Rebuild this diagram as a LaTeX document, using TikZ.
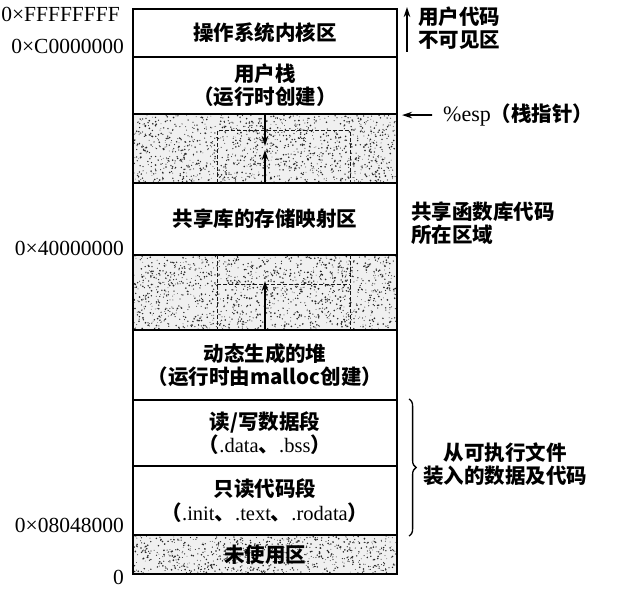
\documentclass[tikz,border=0pt]{standalone}
\usepackage{fontspec}
\setmainfont{Liberation Serif}
\newfontfamily\cjk{Noto Sans CJK SC}
\usetikzlibrary{decorations.pathreplacing,arrows.meta}
\newcommand\zh[1]{{\cjk\bfseries #1}}
\newcommand\myspeckle[5]{%
  \foreach \i in {1,...,#5}{%
    \pgfmathsetmacro\rx{#1+(#3-#1)*rnd}%
    \pgfmathsetmacro\ry{#2+(#4-#2)*rnd}%
    \pgfmathsetmacro\rr{0.35+0.6*rnd}%
    \fill[black!85] (\rx,\ry) circle (\rr);
  }}
\begin{document}
\begin{tikzpicture}[x=1pt,y=-1pt,
  region/.style={draw, line width=2.2pt, minimum width=264pt, inner sep=0pt, align=center,
     font=\fontsize{20.5}{23.5}\selectfont},
  addr/.style={anchor=east, inner sep=0pt, font=\fontsize{21.5}{24}\selectfont},
  note/.style={inner sep=0pt, align=left, font=\fontsize{20.5}{23}\selectfont},
  arr/.style={-{Stealth[length=10pt,width=6.5pt]}, line width=1.8pt},
  dsh/.style={dashed, dash pattern=on 4pt off 2pt, line width=1pt, black!90}]
\useasboundingbox[fill=white] (0,0) rectangle (619,601);
\pgfmathsetseed{1234}
% speckled backgrounds
\fill[black!6] (133,114) rectangle (397,183);
\fill[black!6] (133,255) rectangle (397,330);
\fill[black!6] (133,535) rectangle (397,574);
\myspeckle{134}{115}{396}{182}{1300}
\myspeckle{134}{256}{396}{329}{1400}
\myspeckle{134}{536}{396}{573}{750}
% regions
\node[region, minimum height=48pt] (kernel) at (265,33) {\zh{操作系统内核区}};
\node[region, minimum height=57pt] (stack) at (265,85.5) {\zh{用户栈}\\\zh{（运行时创建）}};
\node[region, minimum height=69pt] (gap1) at (265,148.5) {};
\node[region, minimum height=72pt] (shlib) at (265,219) {\zh{共享库的存储映射区}};
\node[region, minimum height=75pt] (gap2) at (265,292.5) {};
\node[region, minimum height=70pt] (heap) at (265,365) {\zh{动态生成的堆}\\\zh{（运行时由malloc创建）}};
\node[region, minimum height=66pt] (rw) at (265,433) {\zh{读/写数据段}\\\zh{（}.data\zh{、}.bss\zh{）}};
\node[region, minimum height=69pt] (ro) at (265,500.5) {\zh{只读代码段}\\\zh{（}.init\zh{、}.text\zh{、}.rodata\zh{）}};
\node[region, minimum height=39pt] (unused) at (265,554.5) {\zh{未使用区}};
% dashed outlines in the free areas
\draw[dsh] (217,183) -- (217,131) -- (350,131) -- (350,183);
\draw[dsh] (217,255) -- (217,330);
\draw[dsh] (350,255) -- (350,330);
\draw[dsh] (217,285) -- (350,285);
% growth arrows
\coordinate (sdown) at (265,146);
\coordinate (sup) at (265,150);
\coordinate (hup) at (265,281);
\draw[arr] (stack.south) -- (sdown);
\draw[arr] (shlib.north) -- (sup);
\draw[arr] (heap.north) -- (hup);
% addresses
\node[addr] (aF) at (120,14) {0×FFFFFFFF};
\node[addr] (aC) at (124,46) {0×C0000000};
\node[addr] (a4) at (124,248) {0×40000000};
\node[addr] (a8) at (124,525) {0×08048000};
\node[addr] (a0) at (124,577) {0};
% right notes
\node[note, anchor=west] (invis) at (418,28.5) {\zh{用户代码}\\\zh{不可见区}};
\coordinate (ubot) at (407,52);
\coordinate (utop) at (407,7);
\draw[arr] (ubot) -- (utop);
\node[note, anchor=west] (esp) at (443,115) {{\fontsize{22}{24}\selectfont\%esp}\zh{（栈指针）}};
\draw[arr] ([xshift=-11pt]esp.west) -- ([xshift=4pt]stack.south east);
\node[note, anchor=west] (shl) at (411,223.5) {\zh{共享函数库代码}\\\zh{所在区域}};
\draw[line width=1.3pt, decorate, decoration={brace, amplitude=7pt}]
  ([xshift=11pt]rw.north east) -- ([xshift=11pt]ro.south east);
\node[note, align=center] (exe) at (505,464) {\zh{从可执行文件}\\\zh{装入的数据及代码}};
\end{tikzpicture}
\end{document}
